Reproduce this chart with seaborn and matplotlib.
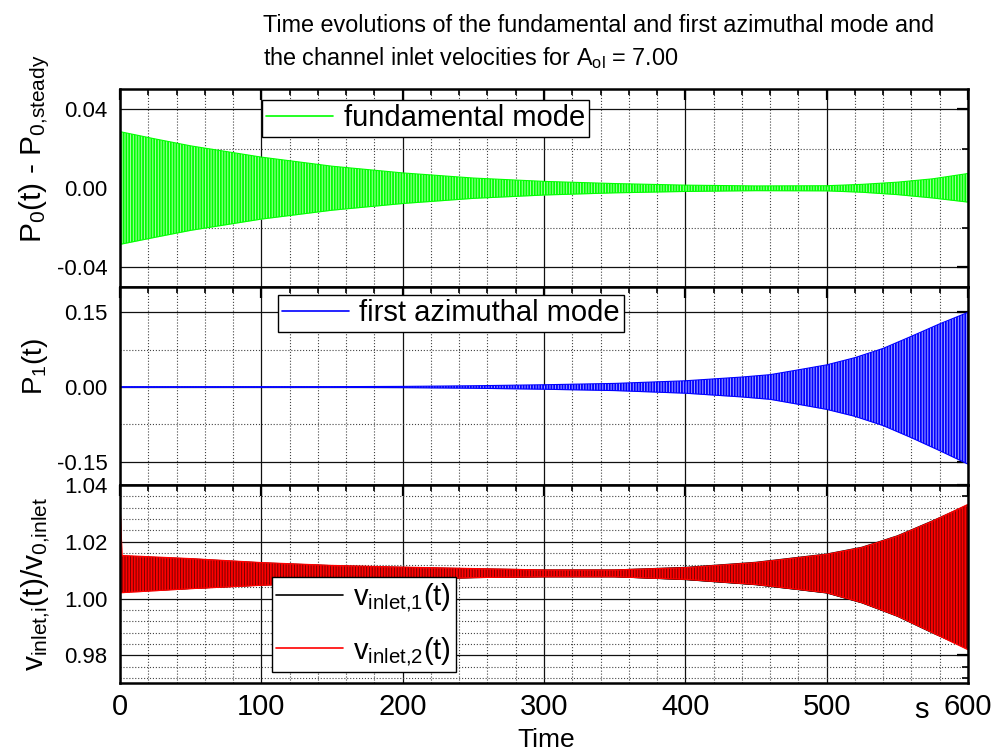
import matplotlib
matplotlib.use("Agg")
import matplotlib.pyplot as plt
import seaborn as sns
from matplotlib.ticker import MultipleLocator, FormatStrFormatter

# Envelopes of the oscillating signals
# fundamental mode P0(t) - P0,steady
t_p0 = [0, 25, 50, 100, 150, 200, 250, 300, 350, 400, 450, 500, 525, 550, 575, 600]
p0_upper = [0.0287, 0.0250, 0.0215, 0.0158, 0.0112, 0.0078, 0.0052, 0.0035,
            0.0024, 0.0016, 0.0012, 0.0013, 0.0020, 0.0031, 0.0048, 0.0075]
p0_lower = [-0.0284, -0.0248, -0.0213, -0.0156, -0.0111, -0.0077, -0.0051, -0.0034,
            -0.0023, -0.0016, -0.0012, -0.0013, -0.0020, -0.0032, -0.0049, -0.0070]

# first azimuthal mode P1(t)
t_p1 = [0, 150, 200, 250, 300, 350, 400, 440, 460, 480, 500, 520, 540, 560, 580, 600]
p1_upper = [0.0006, 0.0007, 0.0012, 0.0025, 0.0045, 0.0072, 0.0125, 0.0200,
            0.0248, 0.0345, 0.0445, 0.0590, 0.0776, 0.1020, 0.1270, 0.1500]
p1_lower = [-0.0006, -0.0007, -0.0012, -0.0025, -0.0045, -0.0072, -0.0125, -0.0200,
            -0.0248, -0.0348, -0.0450, -0.0590, -0.0776, -0.1020, -0.1280, -0.1550]

# channel inlet velocities v_inlet,i(t)/v_0,inlet
t_v1 = [0, 50, 100, 150, 200, 250, 300, 350, 400, 450, 500, 525, 550, 575, 600]
v1_upper = [1.0150, 1.0140, 1.0126, 1.0116, 1.0110, 1.0105, 1.0101, 1.0101,
            1.0110, 1.0128, 1.0157, 1.0181, 1.0221, 1.0274, 1.0330]
v1_lower = [1.0023, 1.0036, 1.0048, 1.0057, 1.0068, 1.0074, 1.0077, 1.0077,
            1.0067, 1.0049, 1.0020, 0.9985, 0.9938, 0.9879, 0.9824]

t_v2 = [0, 1.5, 50, 100, 150, 200, 250, 300, 350, 400, 450, 500, 525, 550, 575, 600]
v2_upper = [1.0340, 1.0152, 1.0141, 1.0127, 1.0117, 1.0111, 1.0106, 1.0101, 1.0101,
            1.0109, 1.0127, 1.0156, 1.0180, 1.0220, 1.0273, 1.0332]
v2_lower = [1.0021, 1.0021, 1.0035, 1.0047, 1.0056, 1.0068, 1.0074, 1.0077, 1.0077,
            1.0068, 1.0050, 1.0021, 0.9986, 0.9939, 0.9880, 0.9820]

sns.set_style("white")
plt.rcParams['font.family'] = ['Liberation Sans', 'DejaVu Sans']
plt.rcParams['axes.unicode_minus'] = False
plt.rcParams['mathtext.default'] = 'regular'
plt.rcParams['hatch.linewidth'] = 1.3
for key in ('text.color', 'axes.labelcolor', 'xtick.color', 'ytick.color', 'axes.edgecolor'):
    plt.rcParams[key] = 'black'

fig = plt.figure(figsize=(9.99, 7.54), dpi=100)
left, width, height = 0.12012, 0.84885, 0.2626
ax0 = fig.add_axes([left, 0.61936, width, height])
ax1 = fig.add_axes([left, 0.35676, width, height])
ax2 = fig.add_axes([left, 0.09416, width, height])


def band(ax, t, up, lo, color, face, label):
    # oscillation band: tinted, hatched area between the envelopes plus envelope lines
    ax.fill_between(t, lo, up, facecolor=face, linewidth=0, zorder=3)
    ax.fill_between(t, lo, up, facecolor='none', edgecolor=color,
                    hatch='||||||', linewidth=0, zorder=3)
    sns.lineplot(x=t, y=up, ax=ax, color=color, lw=0.8, label=label, zorder=4)
    sns.lineplot(x=t, y=lo, ax=ax, color=color, lw=0.8, zorder=4)


band(ax0, t_p0, p0_upper, p0_lower, '#00ff00', '#a8ffa8', 'fundamental mode')
band(ax1, t_p1, p1_upper, p1_lower, '#0000ff', '#a8a8ff', 'first azimuthal mode')
# v_inlet,1 is mostly hidden below v_inlet,2
ax2.fill_between(t_v1, v1_lower, v1_upper, color='black', linewidth=0, zorder=2)
sns.lineplot(x=t_v1, y=v1_upper, ax=ax2, color='black', lw=0.8,
             label=r'$v_{inlet{,}1}(t)$', zorder=2)
sns.lineplot(x=t_v1, y=v1_lower, ax=ax2, color='black', lw=0.8, zorder=2)
band(ax2, t_v2, v2_upper, v2_lower, '#ff0000', (0.85, 0.0, 0.0, 0.55), r'$v_{inlet{,}2}(t)$')

ax0.set_ylim(-0.05, 0.0503)
ax0.yaxis.set_major_locator(MultipleLocator(0.04))
ax0.yaxis.set_minor_locator(MultipleLocator(0.02))
ax1.set_ylim(-0.197, 0.201)
ax1.yaxis.set_major_locator(MultipleLocator(0.15))
ax1.yaxis.set_minor_locator(MultipleLocator(0.075))
ax2.set_ylim(0.9703, 1.04)
ax2.yaxis.set_major_locator(MultipleLocator(0.02))
ax2.yaxis.set_minor_locator(MultipleLocator(0.004))

for ax in (ax0, ax1, ax2):
    ax.set_xlim(0, 600)
    ax.xaxis.set_major_locator(MultipleLocator(100))
    ax.xaxis.set_minor_locator(MultipleLocator(20))
    ax.yaxis.set_major_formatter(FormatStrFormatter('%.2f'))
    ax.grid(which='major', color='#111111', lw=0.9, ls='-', zorder=0)
    ax.grid(which='minor', color='#444444', lw=0.8, ls=':', zorder=0)
    ax.tick_params(which='major', direction='in', length=8, width=1.6,
                   top=True, right=True, labelsize=16, pad=9)
    ax.tick_params(which='minor', direction='in', length=4.5, width=1.2,
                   top=True, right=True)
    for sp in ax.spines.values():
        sp.set_linewidth(1.8)
        sp.set_zorder(6)
    ax.set_xlabel('')

ax0.tick_params(axis='x', labelbottom=False)
ax1.tick_params(axis='x', labelbottom=False)
ax2.tick_params(axis='x', labelsize=21, pad=7)

ax0.set_ylabel(r'P$_0$(t) - P$_{0{,}steady}$', fontsize=21.5, va='center')
ax0.yaxis.set_label_coords(-0.100, 0.70)
ax1.set_ylabel(r'P$_1$(t)', fontsize=20, va='center')
ax1.yaxis.set_label_coords(-0.100, 0.60)
ax2.set_ylabel(r'v$_{inlet{,}i}$(t)/v$_{0{,}inlet}$', fontsize=21.5, va='center')
ax2.yaxis.set_label_coords(-0.100, 0.50)

legend_kw = dict(loc='upper left', borderaxespad=0, fancybox=False, framealpha=1,
                 edgecolor='black', fontsize=21, handlelength=2.3,
                 handletextpad=0.35, borderpad=0.15)
for ax, anchor, spacing in ((ax0, (0.1675, 0.944), 0.5), (ax1, (0.186, 0.96), 0.5),
                            (ax2, (0.179, 0.535), 0.7)):
    leg = ax.legend(bbox_to_anchor=anchor, labelspacing=spacing, **legend_kw)
    leg.get_frame().set_linewidth(1.0)
    leg.set_zorder(7)
    for ln in leg.get_lines():
        ln.set_linewidth(1.2)

fig.text(263 / 999, 1 - 32 / 754, 'Time evolutions of the fundamental and first azimuthal mode and',
         fontsize=16.8, ha='left', va='baseline')
fig.text(263 / 999, 1 - 65 / 754, r'the channel inlet velocities for A$_{ol}$ = 7.00',
         fontsize=16.8, ha='left', va='baseline')
fig.text(546 / 999, 1 - 747 / 754, 'Time', fontsize=19, ha='center', va='baseline')
fig.text(921 / 999, 1 - 718 / 754, 's', fontsize=21, ha='center', va='baseline')

fig.savefig('out.png', dpi=100)
